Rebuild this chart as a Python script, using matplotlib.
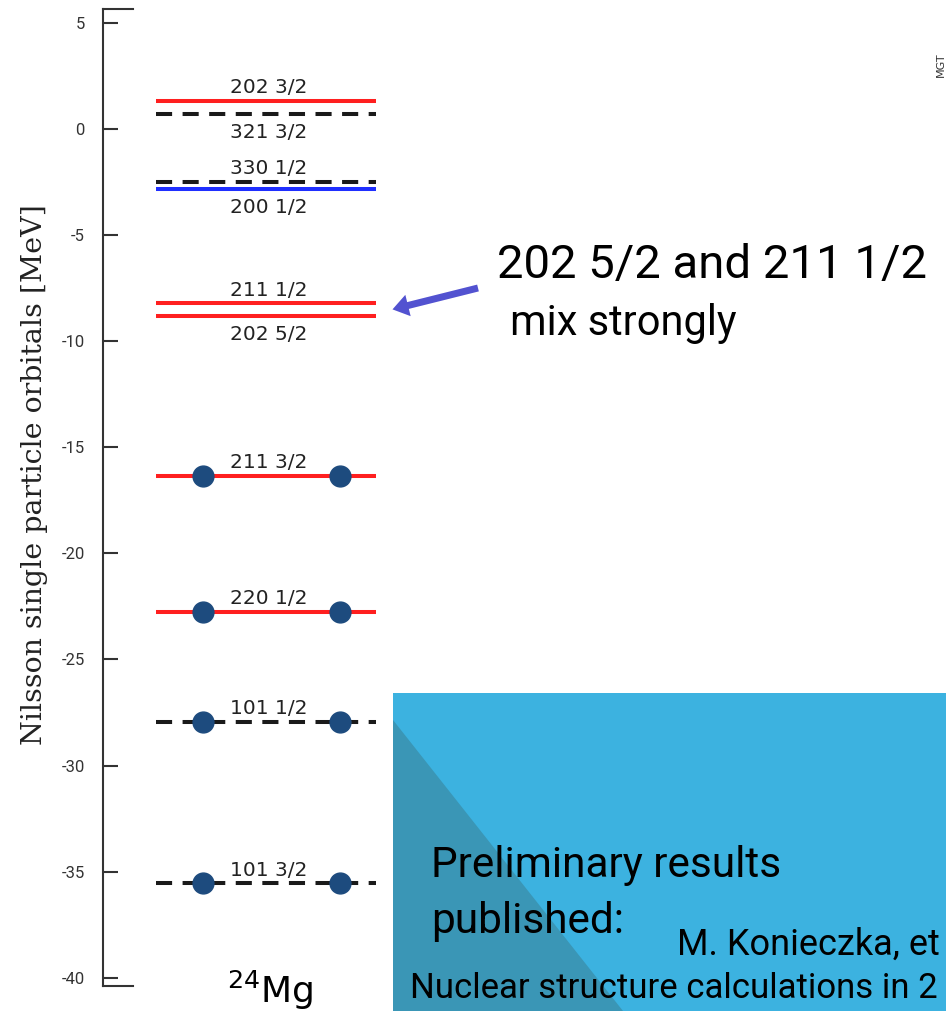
import matplotlib
matplotlib.use("Agg")
import matplotlib.pyplot as plt
import matplotlib.patches as mpatches

plt.rcParams['axes.unicode_minus'] = False

# Nilsson levels of 24Mg (MeV)
orbitals = ["202 3/2", "321 3/2", "330 1/2", "200 1/2", "211 1/2",
            "202 5/2", "211 3/2", "220 1/2", "101 1/2", "101 3/2"]
energies = [1.30, 0.71, -2.50, -2.85, -8.22, -8.81, -16.36, -22.75, -27.93, -35.54]
n_particles = [0, 0, 0, 0, 0, 0, 2, 2, 2, 2]
yticks = [5, 0, -5, -10, -15, -20, -25, -30, -35, -40]

# looks of each level, label above (+) or below (-)
kind = {"202 3/2": "red", "321 3/2": "dash", "330 1/2": "dash", "200 1/2": "blue",
        "211 1/2": "red", "202 5/2": "red", "211 3/2": "red", "220 1/2": "red",
        "101 1/2": "dash", "101 3/2": "dash"}
side = {"321 3/2": -1, "200 1/2": -1, "202 5/2": -1}

W, H = 946, 1011
fig = plt.figure(figsize=(W / 100, H / 100), dpi=100)

bg = fig.add_axes([0, 0, 1, 1])
bg.set_xlim(0, W)
bg.set_ylim(H, 0)
bg.axis('off')

ax = fig.add_axes([103 / W, 1 - 986 / H, 290 / W, 977 / H])
ax.patch.set_visible(False)
ax.set_xlim(0, 1)
ax.set_ylim(-40.38, 5.64)

x0, x1 = 0.183, 0.941
dot_x = [0.344, 0.817]
for name, e in zip(orbitals, energies):
    k = kind[name]
    if k == "dash":
        ax.plot([x0, x1], [e, e], color='#1a1a1a', lw=2.9, dashes=(4, 2.6), dash_capstyle='butt')
    else:
        c = '#ff1f1f' if k == "red" else '#1f2fff'
        ax.plot([x0, x1], [e, e], color=c, lw=2.9, solid_capstyle='butt')
    s = side.get(name, 1)
    ax.annotate(name, (0.571, e), xytext=(0, 9.5 if s > 0 else -13.5), textcoords='offset points',
                ha='center', va='center', fontsize=14.5, color='#222222')

for e, n in zip(energies, n_particles):
    if n:
        ax.plot(dot_x[:n], [e] * n, 'o', color='#1d4b7e', ms=15, zorder=5)

for sp in ['top', 'right', 'bottom']:
    ax.spines[sp].set_visible(False)
ax.spines['left'].set_color('#333333')
ax.spines['left'].set_linewidth(1.5)
ax.plot([0, 0.103], [1, 1], transform=ax.transAxes, color='#333333', lw=1.5, clip_on=False)
ax.plot([0, 0.103], [0, 0], transform=ax.transAxes, color='#333333', lw=1.5, clip_on=False)
ax.set_xticks([])
ax.set_yticks(yticks)
ax.set_yticklabels([str(t) for t in yticks], fontfamily='Roboto', fontsize=12, color='#333333')
ax.tick_params(axis='y', direction='in', length=11, width=1.5, color='#333333', pad=13)

fig.text(35 / W, 1 - 475 / H, "Nilsson single particle orbitals [MeV]", rotation=90,
         ha='center', va='center', fontfamily='DejaVu Serif', fontsize=20.5, color='#222222')
bg.text(270, 1003, r"$^{24}$Mg", ha='center', va='baseline', fontsize=26, color='black', zorder=10)

# annotation on the right
bg.add_patch(mpatches.FancyArrow(478, 288, -70, 17.5, width=7, head_width=22, head_length=16,
                                 length_includes_head=False, color='#5252d0', lw=0))
bg.text(497, 278, "202 5/2 and 211 1/2", fontfamily='Roboto', fontsize=34, va='baseline', color='black')
bg.text(510, 335, "mix strongly", fontfamily='Roboto', fontsize=30, va='baseline', color='black')
bg.text(941, 65, "MGT", rotation=90, ha='center', va='center', fontsize=8, color='#333333')

# blue box
bg.add_patch(mpatches.Rectangle((393, 693), W - 393, H - 693, color='#3cb2e0', lw=0))
bg.add_patch(mpatches.Polygon([(393, 720), (623, H), (393, H)], color='#3a96b6', lw=0))
bg.text(431, 877, "Preliminary results", fontfamily='Roboto', fontsize=30.5, va='baseline', color='black')
bg.text(431, 933, "published:", fontfamily='Roboto', fontsize=30.5, va='baseline', color='black')
bg.text(677, 955, "M. Konieczka, et", fontfamily='Roboto', fontsize=26, va='baseline', color='black')
bg.text(410, 998, "Nuclear structure calculations in 2", fontfamily='Roboto', fontsize=25,
        va='baseline', color='black')

fig.savefig("out.png", dpi=100)
